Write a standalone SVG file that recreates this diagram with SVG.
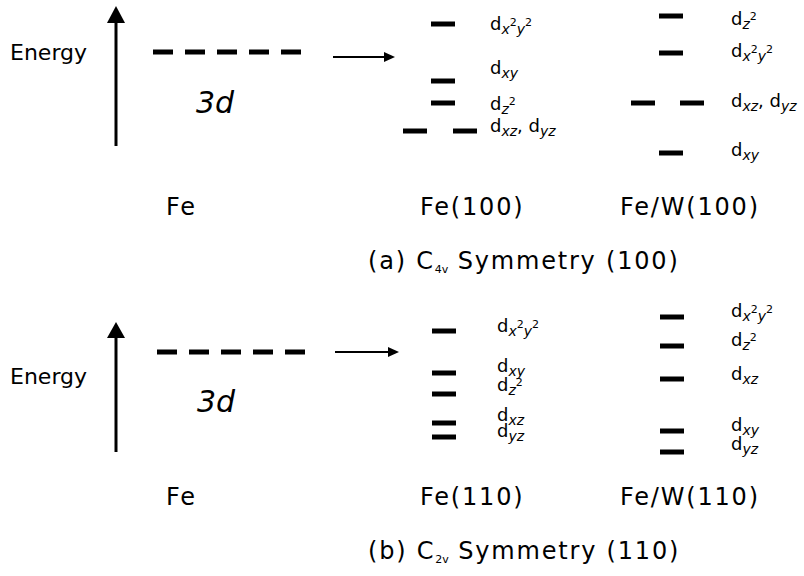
<svg xmlns="http://www.w3.org/2000/svg" width="804" height="576" viewBox="0 0 804 576">
<defs>
<style>
.t{font-family:"DejaVu Sans","Liberation Sans",sans-serif;fill:#000}
.lbl{font-size:24px;letter-spacing:1.8px}
.en{font-size:22px}
.three{font-size:30px;font-style:italic}
.d{font-size:18px}
.sb{font-size:14px;font-style:italic}
.sp{font-size:11px}
.cs{font-size:11px;letter-spacing:0}
.lv{stroke:#000;stroke-width:5;fill:none}
.dash{stroke:#000;stroke-width:5;fill:none;stroke-dasharray:20 12}
.ax{stroke:#000;stroke-width:3;fill:none}
.ar{stroke:#000;stroke-width:2;fill:none}
</style>
</defs>
<rect width="804" height="576" fill="#fff"/>

<!-- Panel (a) -->
<g id="a-axis">
<line class="ax" x1="116" y1="146" x2="116" y2="20"/>
<polygon points="107,23 116,6 125,23" fill="#000"/>
<text class="t en" x="10" y="60">Energy</text>
</g>
<g id="a-fe">
<line class="dash" x1="153" y1="52" x2="305" y2="52"/>
<text class="t three" x="196" y="113">3d</text>
<text class="t lbl" x="166" y="215">Fe</text>
</g>
<g id="a-connectors">
<line class="ar" x1="333" y1="57" x2="386" y2="57"/>
<polygon points="384,52 395,57 384,62" fill="#000"/>
</g>
<g id="a-fe100">
<line class="lv" x1="431" y1="24" x2="455" y2="24"/>
<line class="lv" x1="431" y1="81" x2="455" y2="81"/>
<line class="lv" x1="431" y1="103" x2="455" y2="103"/>
<line class="lv" x1="403" y1="131" x2="427" y2="131"/>
<line class="lv" x1="453" y1="131" x2="477" y2="131"/>
<text class="t d" x="490" y="30">d<tspan class="sb" dy="4">x</tspan><tspan class="sp" dy="-8">2</tspan><tspan class="sb" dy="8">y</tspan><tspan class="sp" dy="-8">2</tspan></text>
<text class="t d" x="490" y="74">d<tspan class="sb" dy="4">xy</tspan></text>
<text class="t d" x="490" y="110">d<tspan class="sb" dy="4">z</tspan><tspan class="sp" dy="-9">2</tspan></text>
<text class="t d" x="490" y="132">d<tspan class="sb" dy="4">xz</tspan><tspan dy="-4">, d</tspan><tspan class="sb" dy="4">yz</tspan></text>
<text class="t lbl" x="420" y="215">Fe(100)</text>
</g>
<g id="a-few100">
<line class="lv" x1="659" y1="16" x2="683" y2="16"/>
<line class="lv" x1="659" y1="53" x2="683" y2="53"/>
<line class="lv" x1="631" y1="103" x2="655" y2="103"/>
<line class="lv" x1="680" y1="103" x2="704" y2="103"/>
<line class="lv" x1="659" y1="153" x2="683" y2="153"/>
<text class="t d" x="731" y="25">d<tspan class="sb" dy="4">z</tspan><tspan class="sp" dy="-9">2</tspan></text>
<text class="t d" x="731" y="57">d<tspan class="sb" dy="4">x</tspan><tspan class="sp" dy="-8">2</tspan><tspan class="sb" dy="8">y</tspan><tspan class="sp" dy="-8">2</tspan></text>
<text class="t d" x="731" y="107">d<tspan class="sb" dy="4">xz</tspan><tspan dy="-4">, d</tspan><tspan class="sb" dy="4">yz</tspan></text>
<text class="t d" x="731" y="156">d<tspan class="sb" dy="4">xy</tspan></text>
<text class="t lbl" x="620" y="215">Fe/W(100)</text>
</g>
<g id="a-caption">
<text class="t lbl" x="368" y="269">(a) C<tspan class="cs" dy="4">4v</tspan><tspan dy="-4"> Symmetry (100)</tspan></text>
</g>

<!-- Panel (b) -->
<g id="b-axis">
<line class="ax" x1="116" y1="452" x2="116" y2="334"/>
<polygon points="107,338 116,322 125,338" fill="#000"/>
<text class="t en" x="10" y="384">Energy</text>
</g>
<g id="b-fe">
<line class="dash" x1="157" y1="352" x2="309" y2="352"/>
<text class="t three" x="197" y="412">3d</text>
<text class="t lbl" x="166" y="505">Fe</text>
</g>
<g id="b-connectors">
<line class="ar" x1="335" y1="352" x2="390" y2="352"/>
<polygon points="388,347 399,352 388,357" fill="#000"/>
</g>
<g id="b-fe110">
<line class="lv" x1="432" y1="331" x2="456" y2="331"/>
<line class="lv" x1="432" y1="373" x2="456" y2="373"/>
<line class="lv" x1="432" y1="394" x2="456" y2="394"/>
<line class="lv" x1="432" y1="423" x2="456" y2="423"/>
<line class="lv" x1="432" y1="437" x2="456" y2="437"/>
<text class="t d" x="497" y="332">d<tspan class="sb" dy="4">x</tspan><tspan class="sp" dy="-8">2</tspan><tspan class="sb" dy="8">y</tspan><tspan class="sp" dy="-8">2</tspan></text>
<text class="t d" x="497" y="372">d<tspan class="sb" dy="4">xy</tspan></text>
<text class="t d" x="497" y="391">d<tspan class="sb" dy="4">z</tspan><tspan class="sp" dy="-9">2</tspan></text>
<text class="t d" x="497" y="421">d<tspan class="sb" dy="4">xz</tspan></text>
<text class="t d" x="497" y="437">d<tspan class="sb" dy="4">yz</tspan></text>
<text class="t lbl" x="420" y="505">Fe(110)</text>
</g>
<g id="b-few110">
<line class="lv" x1="660" y1="317" x2="684" y2="317"/>
<line class="lv" x1="660" y1="346" x2="684" y2="346"/>
<line class="lv" x1="660" y1="379" x2="684" y2="379"/>
<line class="lv" x1="660" y1="431" x2="684" y2="431"/>
<line class="lv" x1="660" y1="452" x2="684" y2="452"/>
<text class="t d" x="731" y="317">d<tspan class="sb" dy="4">x</tspan><tspan class="sp" dy="-8">2</tspan><tspan class="sb" dy="8">y</tspan><tspan class="sp" dy="-8">2</tspan></text>
<text class="t d" x="731" y="346">d<tspan class="sb" dy="4">z</tspan><tspan class="sp" dy="-9">2</tspan></text>
<text class="t d" x="731" y="380">d<tspan class="sb" dy="4">xz</tspan></text>
<text class="t d" x="731" y="431">d<tspan class="sb" dy="4">xy</tspan></text>
<text class="t d" x="731" y="450">d<tspan class="sb" dy="4">yz</tspan></text>
<text class="t lbl" x="620" y="505">Fe/W(110)</text>
</g>
<g id="b-caption">
<text class="t lbl" x="368" y="559">(b) C<tspan class="cs" dy="4">2v</tspan><tspan dy="-4"> Symmetry (110)</tspan></text>
</g>
</svg>
